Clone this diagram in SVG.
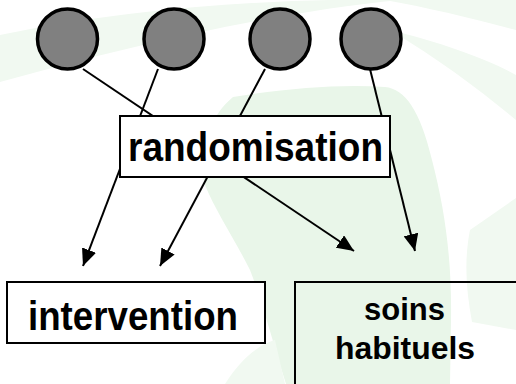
<svg xmlns="http://www.w3.org/2000/svg" width="516" height="384" viewBox="0 0 516 384">
  <style>
    .bg-a { fill: #f1f9f1; }
    .bg-b { fill: #e9f6e9; }
    .person { fill: #808080; stroke: #000; stroke-width: 3.5; }
    .box { fill: #fff; stroke: #000; stroke-width: 2; }
    .open { fill: none; stroke: #000; stroke-width: 2; }
    .link { stroke: #000; stroke-width: 2; fill: none; }
    .label { font-family: "Liberation Sans", Arial, sans-serif; font-weight: bold; fill: #000; text-anchor: middle; }
  </style>
  <defs>
    <marker id="head" markerUnits="userSpaceOnUse" markerWidth="18" markerHeight="15" refX="17" refY="7.5" orient="auto">
      <path d="M0,0 L17,7.5 L0,15 Z" fill="#000"/>
    </marker>
  </defs>

  <!-- faint background swooshes -->
  <g id="background">
    <rect width="516" height="384" fill="#fff"/>
    <path class="bg-a" d="M0,35 C110,12 230,2 330,0 L400,0 C280,12 150,40 0,82 Z"/>
    <path class="bg-a" d="M385,0 L516,0 L516,30 C470,18 430,8 385,0 Z"/>
    <path class="bg-a" d="M390,30 C440,42 490,60 516,75 L516,120 C480,90 440,60 390,30 Z"/>
    <path class="bg-b" d="M233,97 C290,88 340,84 385,87 C405,89 420,110 432,160 C445,210 452,260 451,320 L450,384 L286,384 C272,340 262,300 250,270 C235,240 215,210 205,185 C198,160 205,120 233,97 Z"/>
    <path class="bg-a" d="M470,230 L516,198 L516,330 L472,322 C466,290 464,260 470,230 Z"/>
    <path class="bg-a" d="M225,384 C240,360 258,345 275,340 L285,384 Z"/>
  </g>

  <!-- connectors -->
  <g id="connectors">
    <line class="link" x1="83" y1="69" x2="354" y2="251" marker-end="url(#head)"/>
    <line class="link" x1="158" y1="69" x2="83" y2="266" marker-end="url(#head)"/>
    <line class="link" x1="265" y1="69" x2="160" y2="266" marker-end="url(#head)"/>
    <line class="link" x1="370" y1="69" x2="415" y2="251" marker-end="url(#head)"/>
  </g>

  <!-- patients -->
  <g id="patient-1"><circle class="person" cx="67.5" cy="39" r="30"/></g>
  <g id="patient-2"><circle class="person" cx="174" cy="39" r="30"/></g>
  <g id="patient-3"><circle class="person" cx="280" cy="39" r="30"/></g>
  <g id="patient-4"><circle class="person" cx="371" cy="39" r="30"/></g>

  <g id="randomisation">
    <rect class="box" x="120" y="116" width="270" height="61"/>
    <text class="label" x="255.5" y="161" font-size="40" textLength="255" lengthAdjust="spacingAndGlyphs">randomisation</text>
  </g>

  <g id="intervention">
    <rect class="box" x="7" y="282" width="258" height="61"/>
    <text class="label" x="133" y="330" font-size="40" textLength="210" lengthAdjust="spacingAndGlyphs">intervention</text>
  </g>

  <g id="soins-habituels">
    <rect class="open" x="295" y="282" width="240" height="130"/>
    <text class="label" x="404.5" y="320" font-size="32" textLength="81" lengthAdjust="spacingAndGlyphs">soins</text>
    <text class="label" x="405" y="358.5" font-size="32" textLength="140" lengthAdjust="spacingAndGlyphs">habituels</text>
  </g>
</svg>
